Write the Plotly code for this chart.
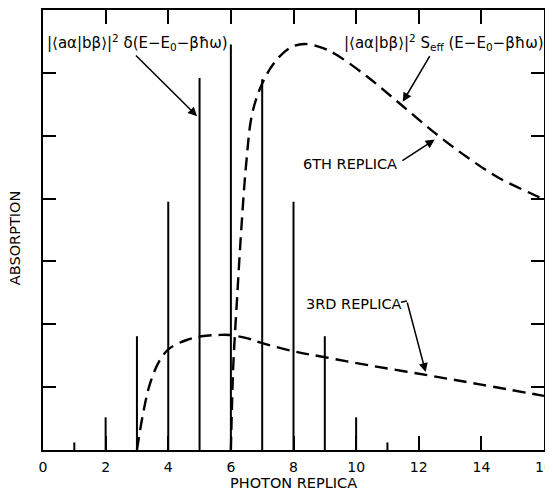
import plotly.graph_objects as go

# ---- data ----
replica = [1, 2, 3, 4, 5, 6, 7, 8, 9, 10, 11]
stick_height = [0.12, 0.52, 1.81, 3.95, 5.92, 6.45, 5.90, 3.95, 1.81, 0.52, 0.12]

x6 = [6.0, 6.03, 6.08, 6.2, 6.33, 6.49, 6.68, 7.0, 7.43, 7.9, 8.35, 8.9, 9.33, 10.38, 11.42, 12.5, 13.54, 14.59, 15.85, 16.0]
y6 = [0.0, 0.6, 1.38, 2.43, 3.49, 4.56, 5.35, 5.83, 6.19, 6.40, 6.46, 6.40, 6.30, 5.93, 5.50, 5.05, 4.66, 4.32, 4.02, 3.98]

x3 = [3.0, 3.2, 3.42, 3.73, 4.05, 4.59, 5.06, 5.6, 5.95, 6.5, 7.0, 8.0, 8.96, 10.5, 12.28, 14.0, 16.0]
y3 = [0.0, 0.59, 1.06, 1.43, 1.62, 1.75, 1.81, 1.83, 1.83, 1.78, 1.70, 1.57, 1.48, 1.34, 1.19, 1.04, 0.86]

x_ticks = [0, 2, 4, 6, 8, 10, 12, 14, 16]
x_ticklabels = ["0", "2", "4", "6", "8", "10", "12", "14", "16"]
y_ticks = [1, 2, 3, 4, 5, 6]

FONT = "DejaVu Sans"

# stick spectrum as vertical segments
sx, sy = [], []
for xv, hv in zip(replica, stick_height):
    sx += [xv, xv, None]
    sy += [0, hv, None]

fig = go.Figure()
fig.add_trace(go.Scatter(x=sx, y=sy, mode="lines",
                         line=dict(color="black", width=2), hoverinfo="skip"))
fig.add_trace(go.Scatter(x=x6, y=y6, mode="lines", line_shape="spline",
                         line=dict(color="black", width=2.4, dash="13px,7px")))
fig.add_trace(go.Scatter(x=x3, y=y3, mode="lines", line_shape="spline",
                         line=dict(color="black", width=2.4, dash="13px,7px")))

ann_font = dict(family=FONT, size=15, color="black")
lab_font = dict(family=FONT, size=14.5, color="black")

arrow = dict(xref="x", yref="y", axref="x", ayref="y", text="", showarrow=True,
             arrowhead=2, arrowsize=1.2, arrowwidth=1.5, arrowcolor="black")

annotations = [
    dict(x=0.06, y=6.49, xref="x", yref="y", xanchor="left", yanchor="middle",
         text="|⟨aα|bβ⟩|<sup>2</sup> δ(E−E<sub>0</sub>−βħω)", showarrow=False, font=ann_font),
    dict(x=9.55, y=6.49, xref="x", yref="y", xanchor="left", yanchor="middle",
         text="|⟨aα|bβ⟩|<sup>2</sup> S<sub>eff</sub> (E−E<sub>0</sub>−βħω)", showarrow=False, font=ann_font),
    dict(x=8.25, y=4.55, xref="x", yref="y", xanchor="left", yanchor="middle",
         text="6TH REPLICA", showarrow=False, font=lab_font),
    dict(x=8.32, y=2.33, xref="x", yref="y", xanchor="left", yanchor="middle",
         text="3RD REPLICA", showarrow=False, font=lab_font),
    dict(x=4.92, y=5.31, ax=2.92, ay=6.30, **arrow),
    dict(x=11.49, y=5.54, ax=12.38, ay=6.29, **arrow),
    dict(x=12.51, y=4.94, ax=11.43, ay=4.59, **arrow),
    dict(x=12.22, y=1.24, ax=11.62, ay=2.37, **arrow),
    # axis titles
    dict(x=0, y=3.37, xref="paper", yref="y", xanchor="center", yanchor="middle",
         xshift=-28, textangle=-90, text="ABSORPTION", showarrow=False, font=lab_font),
    dict(x=0.5, y=-0.074, xref="paper", yref="paper", xanchor="center", yanchor="middle",
         text="PHOTON REPLICA", showarrow=False, font=dict(family=FONT, size=14.5, color="black")),
]

fig.add_shape(type="line", x0=11.43, y0=2.35, x1=11.62, y1=2.37, xref="x", yref="y",
              line=dict(color="black", width=1.5))

# the page body has an 8px margin, so the figure is 8px smaller and margins shifted
fig.update_layout(
    width=545, height=483,
    margin=dict(l=35, r=6, t=0, b=41),
    paper_bgcolor="white", plot_bgcolor="white",
    showlegend=False,
    annotations=annotations,
    xaxis=dict(range=[0, 16], tickvals=x_ticks, ticktext=x_ticklabels,
               ticks="inside", ticklen=14, tickwidth=1.5, tickcolor="black",
               showline=True, linewidth=2, linecolor="black", mirror="ticks",
               showgrid=False, zeroline=False, ticklabeloverflow="allow",
               ticklabelstandoff=3,
               tickfont=dict(family=FONT, size=14, color="black")),
    yaxis=dict(range=[0, 7], tickvals=y_ticks, showticklabels=False,
               ticks="inside", ticklen=13, tickwidth=1.5, tickcolor="black",
               showline=True, linewidth=2, linecolor="black", mirror="ticks",
               showgrid=False, zeroline=False),
)

fig.write_html("out.html")
